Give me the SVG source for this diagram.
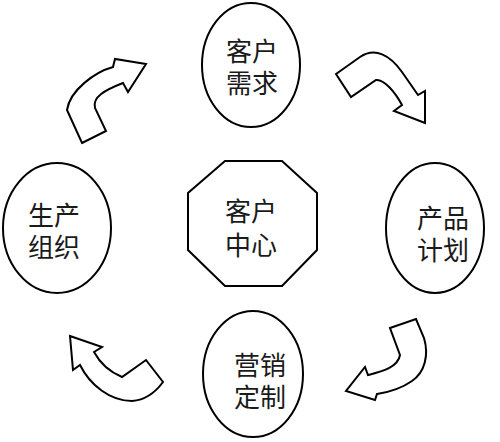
<svg xmlns="http://www.w3.org/2000/svg" width="500" height="442" viewBox="0 0 500 442">
<style>
.shape{fill:#fff;stroke:#000;stroke-width:2}
.arrow{fill:#fff;stroke:#000;stroke-width:2;stroke-linejoin:miter}
.lbl{font-family:"Liberation Sans","Noto Sans CJK SC",sans-serif;font-size:26px;fill:#1a1a1a;text-anchor:middle}
</style>
<rect width="500" height="442" fill="#fff"/>
<g id="connectors">
<path class="arrow" d="M336,74 L360,57 C375,47 390,55 402,72 L418,95 L425,91 L425,123 L394,111 L402,105 C395,92 384,79 376,80 L351,97 Z"/>
<path class="arrow" d="M82,143 L106,131 L95,108 C92,97 105,90 123,83 L128,92 L146,64 L115,59 L113,67 C95,72 70,90 67,110 Z"/>
<path class="arrow" d="M390,328 L416,319 L424,338 C429,355 425,372 412,381 C402,388 390,392 377,394 L375,400 L346,391 L365,367 L368,375 C380,372 398,368 400,355 Z"/>
<path class="arrow" d="M70,336 L102,347 L94,352 C100,363 110,372 122,377 L146,360 L163,382 C155,393 145,400 132,401 C110,401 90,385 80,365 L73,370 Z"/>
</g>
<g id="node-demand">
<ellipse class="shape" cx="251" cy="65" rx="49" ry="62"/>
<text class="lbl"><tspan x="252" y="61">客户</tspan><tspan x="252" y="93">需求</tspan></text>
</g>
<g id="node-plan">
<ellipse class="shape" cx="435" cy="228" rx="49" ry="65"/>
<text class="lbl"><tspan x="443" y="228">产品</tspan><tspan x="443" y="260">计划</tspan></text>
</g>
<g id="node-marketing">
<ellipse class="shape" cx="253" cy="374" rx="50" ry="63"/>
<text class="lbl"><tspan x="260" y="375">营销</tspan><tspan x="260" y="407">定制</tspan></text>
</g>
<g id="node-production">
<ellipse class="shape" cx="57" cy="228" rx="54" ry="65"/>
<text class="lbl"><tspan x="54" y="225">生产</tspan><tspan x="54" y="257">组织</tspan></text>
</g>
<g id="node-center">
<polygon class="shape" points="225,161 282,161 317,193 317,250 282,286 225,286 188,250 188,193"/>
<text class="lbl"><tspan x="251" y="221">客户</tspan><tspan x="251" y="255">中心</tspan></text>
</g>
</svg>
